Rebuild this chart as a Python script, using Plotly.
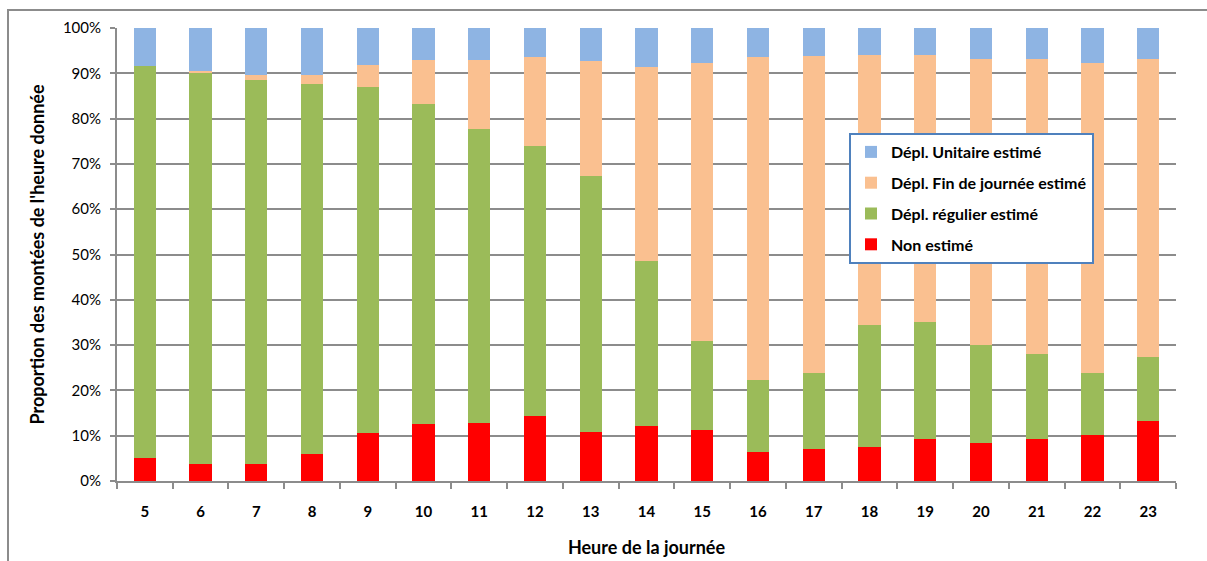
import plotly.graph_objects as go

# Hours of the day (categories)
heures = [str(h) for h in range(5, 24)]

# Share of boardings per hour (%), one list per stacked segment
non_estime = [5.1, 3.8, 3.8, 6.0, 10.6, 12.5, 12.8, 14.4, 10.9, 12.2, 11.2, 6.3, 7.1, 7.4, 9.3, 8.5, 9.3, 10.1, 13.3]
regulier = [86.5, 86.3, 84.7, 81.7, 76.4, 70.7, 64.9, 59.5, 56.5, 36.4, 19.6, 16.1, 16.7, 27.1, 25.8, 21.5, 18.7, 13.7, 14.1]
fin_journee = [0.0, 0.4, 1.2, 2.0, 4.8, 9.7, 15.2, 19.6, 25.3, 42.8, 61.4, 71.1, 70.0, 59.5, 58.9, 63.2, 65.2, 68.4, 65.8]
unitaire = [8.4, 9.5, 10.3, 10.3, 8.2, 7.1, 7.1, 6.5, 7.3, 8.6, 7.8, 6.5, 6.2, 6.0, 6.0, 6.8, 6.8, 7.8, 6.8]

# stacked bottom to top; legend lists them top to bottom
series = [
    ("Non estimé", non_estime, "#FF0000"),
    ("Dépl. régulier estimé", regulier, "#9BBB59"),
    ("Dépl. Fin de journée estimé", fin_journee, "#FAC090"),
    ("Dépl. Unitaire estimé", unitaire, "#8EB4E3"),
]

W, H = 1207, 561
L, R, T, B = 117, 1176, 28, 481  # plot area in pixels

fig = go.Figure()
for i, (name, vals, col) in enumerate(series):
    fig.add_trace(go.Bar(
        x=heures, y=vals, name=name, marker_color=col,
        marker_line_width=0, legendgroup=f"g{i}",
        legendrank=1000 - i,
        hovertemplate="%{x} h : %{y:.1f}%<extra>" + name + "</extra>",
    ))

def px_x(p):
    return (p - L) / (R - L)

def px_y(p):
    return (B - p) / (B - T)

font_family = "Lato, 'Open Sans', sans-serif"
grid_col = "#8C8C8C"

fig.update_layout(
    width=W, height=H,
    margin=dict(l=L, r=W - R, t=T, b=H - B, pad=0, autoexpand=False),
    barmode="stack", bargap=0.6,
    plot_bgcolor="white", paper_bgcolor="white",
    font=dict(family=font_family, color="#111111"),
    showlegend=True,
    legend=dict(
        x=px_x(849), y=px_y(133), xanchor="left", yanchor="top",
        traceorder="grouped", tracegroupgap=7,
        bgcolor="white", bordercolor="#4F81BD", borderwidth=2,
        font=dict(size=16, family=font_family, color="#000000", weight="bold"),
        itemwidth=30,
    ),
    xaxis=dict(
        type="category", showgrid=False, automargin=False,
        showline=True, linecolor=grid_col, linewidth=2,
        ticks="outside", ticklen=6, tickwidth=2, tickcolor=grid_col,
        tickson="boundaries", ticklabelstandoff=16,
        tickfont=dict(size=15, weight="bold", color="#000000"),
        title=dict(text="Heure de la journée", standoff=22,
                   font=dict(size=18, weight="bold", color="#000000")),
    ),
    yaxis=dict(
        range=[0, 100], dtick=10, ticksuffix="%", automargin=False,
        showgrid=True, gridcolor=grid_col, gridwidth=2,
        showline=True, linecolor=grid_col, linewidth=2,
        ticks="outside", ticklen=5, tickwidth=2, tickcolor=grid_col,
        ticklabelstandoff=6, zeroline=False,
        tickfont=dict(size=15, color="#000000"),
        title=dict(text="Proportion des montées de l'heure donnée", standoff=14,
                   font=dict(size=18, weight="bold", color="#000000")),
    ),
    shapes=[dict(
        type="rect", xref="paper", yref="paper",
        x0=px_x(8), x1=px_x(1230), y0=px_y(575), y1=px_y(10),
        line=dict(color="#8C8C8C", width=2), fillcolor="rgba(0,0,0,0)",
        layer="below",
    )],
)

fig.write_html("out.html")
